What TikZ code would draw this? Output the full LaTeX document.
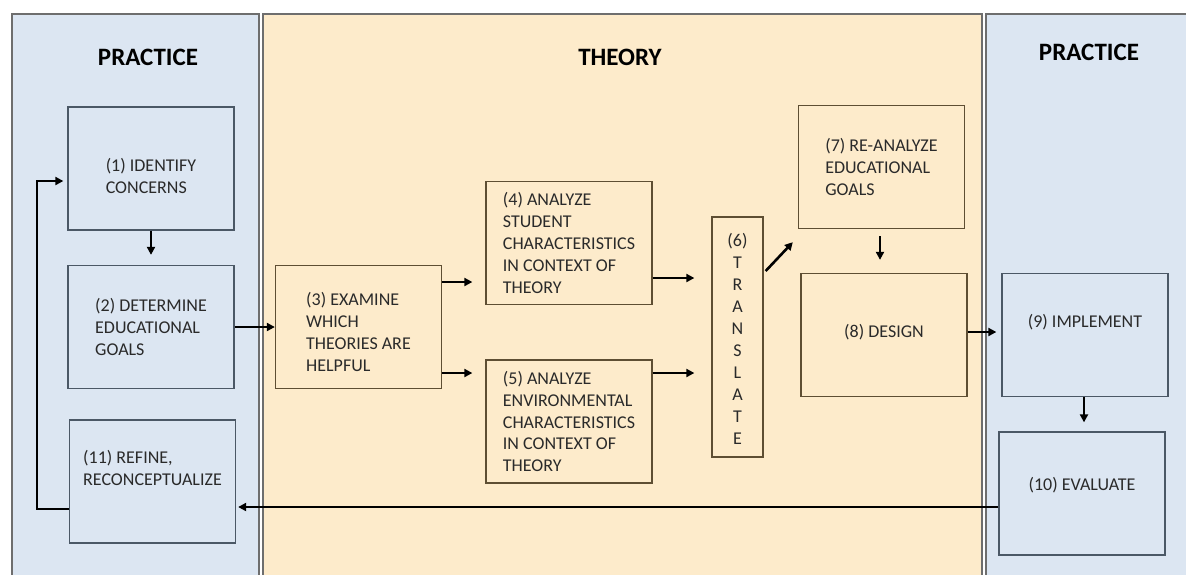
\documentclass[tikz,border=0pt]{standalone}
\usepackage{fontspec}
\setmainfont{Carlito}
\usetikzlibrary{arrows.meta,calc}

\definecolor{practiceblue}{HTML}{DCE6F2}
\definecolor{theorytan}{HTML}{FDEBCB}
\definecolor{paneledge}{HTML}{6E6E6E}
\definecolor{blueedge}{HTML}{4B5866}
\definecolor{tanedge}{HTML}{5E4E33}
\definecolor{boxtext}{HTML}{2A2A2A}

% struts that move a label down (taller first line) or up (deeper last line)
\newcommand{\padtop}[1]{\rule{0pt}{#1}}
\newcommand{\padbot}[1]{\rule[-#1]{0pt}{0pt}}

\tikzset{
  panel/.style={draw=paneledge, line width=1.2pt},
  head/.style={font=\fontsize{25}{30}\selectfont\bfseries, text=black},
  stepbox/.style={draw, line width=1.3pt, minimum width=166pt, minimum height=123pt,
    align=left, text=boxtext, font=\fontsize{18}{21.8}\selectfont, inner sep=2pt},
  pbox/.style={stepbox, draw=blueedge, fill=practiceblue},
  tbox/.style={stepbox, draw=tanedge, fill=theorytan},
  arr/.style={-{Triangle[length=8pt,width=8pt]}, line width=2.6pt, black},
}

\begin{document}
\begin{tikzpicture}[x=1pt,y=-1pt]
\useasboundingbox (0,0) rectangle (1186,574);
\clip (0,0) rectangle (1186,574);
\fill[white] (0,0) rectangle (1186,574);

% PANELS
\draw[panel, fill=practiceblue] (12,14) rectangle (259,590);
\draw[panel, fill=theorytan] (263,14) rectangle (982,590);
\draw[panel, fill=practiceblue] (986,14) rectangle (1200,590);

\node[head] (hl) at (148,57) {PRACTICE};
\node[head] (hm) at (620,57) {THEORY};
\node[head] (hr) at (1089,52) {PRACTICE};

% PRACTICE (LEFT)
\node[pbox] (id) at (151,168.5) {\padtop{27.5pt}(1) IDENTIFY\\CONCERNS};
\node[pbox] (dg) at (151,327) {(2) DETERMINE\\EDUCATIONAL\\GOALS};
\node[pbox] (rf) at (152.5,481.5) {(11) REFINE,\\RECONCEPTUALIZE\padbot{26.5pt}};

% THEORY
\node[tbox] (ex) at (358.5,327) {\padtop{23.5pt}(3) EXAMINE\\WHICH\\THEORIES ARE\\HELPFUL};
\node[tbox] (st) at (569,243) {(4) ANALYZE\\STUDENT\\CHARACTERISTICS\\IN CONTEXT OF\\THEORY};
\node[tbox] (en) at (569,421.5) {(5) ANALYZE\\ENVIRONMENTAL\\CHARACTERISTICS\\IN CONTEXT OF\\THEORY};
\node[tbox, minimum width=51pt, minimum height=240pt, align=center,
  font=\fontsize{18}{22}\selectfont] (tr) at (737.5,337)
  {\padtop{17.5pt}(6)\\T\\R\\A\\N\\S\\L\\A\\T\\E};
\node[tbox] (re) at (881.5,167) {(7) RE-ANALYZE\\EDUCATIONAL\\GOALS};
\node[tbox] (de) at (884,335) {(8) DESIGN\padbot{8pt}};

% PRACTICE (RIGHT)
\node[pbox] (im) at (1085,335) {(9) IMPLEMENT\padbot{28.5pt}};
\node[pbox] (ev) at (1082,493.5) {(10) EVALUATE\padbot{18.5pt}};

% ARROWS
\draw[arr] (id.south) -- ($(dg.north)+(0,-10)$);
\draw[arr] (dg.east) -- (ex.west);
\draw[arr] ($(ex.east)+(0,-45)$) -- ($(ex.east -| st.west)+(-13,-45)$);
\draw[arr] ($(ex.east)+(0,46)$) -- ($(ex.east -| en.west)+(-13,46)$);
\draw[arr] ($(st.east)+(0,35)$) -- ($(st.east -| tr.west)+(-17,35)$);
\draw[arr] ($(en.east)+(0,-48.5)$) -- ($(en.east -| tr.west)+(-17,-48.5)$);
\draw[arr] ($(tr.east)+(2,-66)$) -- ($(re.south west)+(-5,13)$);
\draw[arr] ($(re.south)+(-1.5,7)$) -- ($(re.south |- de.north)+(-1.5,-13)$);
\draw[arr] ($(de.east)+(0,-3)$) -- ($(de.east -| im.west)+(-5,-3)$);
\draw[arr] ($(im.south)+(-1,0)$) -- ($(im.south |- ev.north)+(-1,-9)$);
\draw[arr] ($(ev.west)+(0,13.5)$) -- ($(ev.west -| rf.east)+(2,13.5)$);

% FEEDBACK LOOP
\coordinate (lp) at (37,0);
\draw[arr] ($(rf.west)+(0,27.5)$) -- ($(rf.west -| lp)+(0,27.5)$) |- ($(id.west)+(-4,12.5)$);

\end{tikzpicture}
\end{document}
